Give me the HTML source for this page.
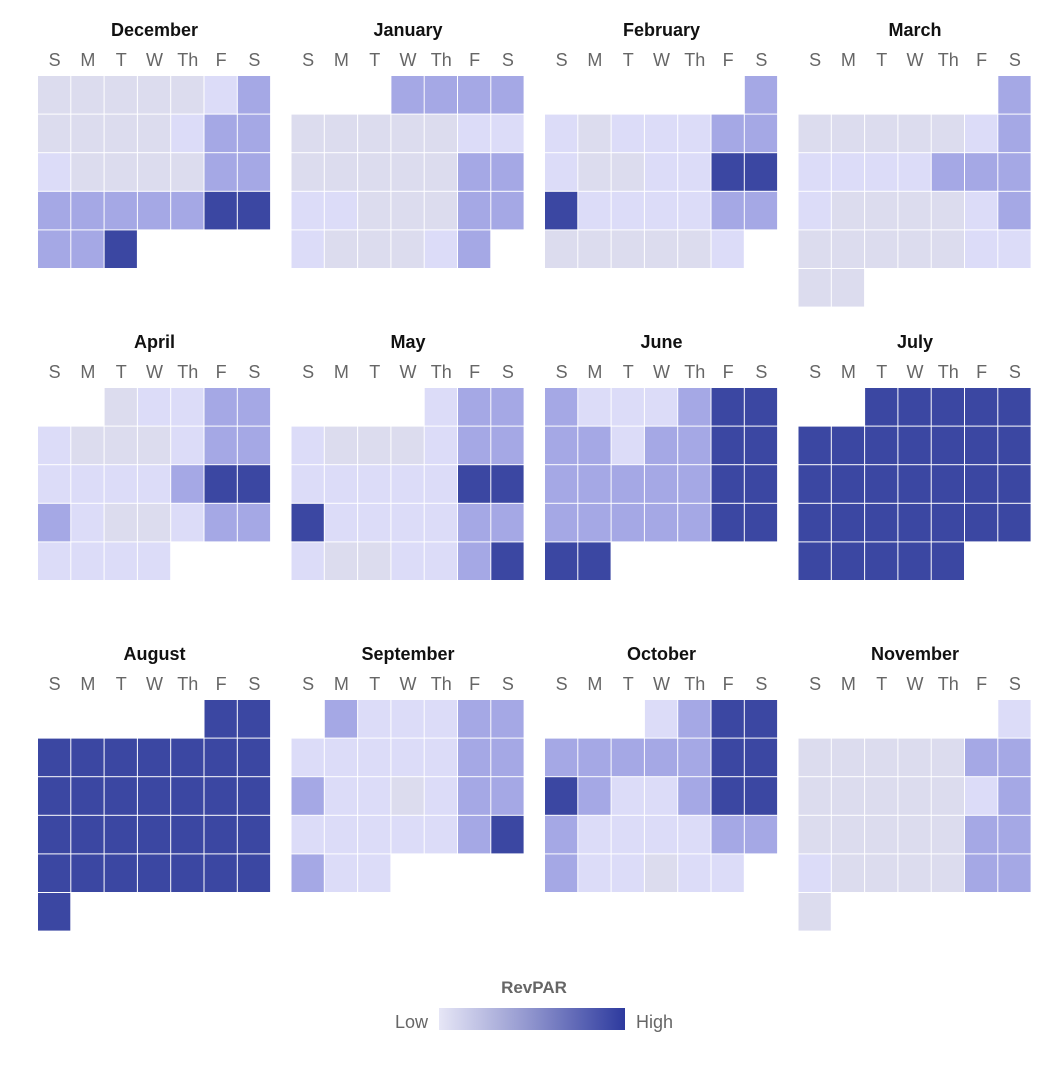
<!DOCTYPE html>
<html><head><meta charset="utf-8"><style>
html,body{margin:0;padding:0;background:#fff;}
svg{display:block;font-family:"Liberation Sans",sans-serif;}
.t{font-size:18px;font-weight:bold;fill:#111;text-anchor:middle;}
.d{font-size:18px;fill:#666;text-anchor:middle;}
</style></head><body>
<svg id="s" width="1060" height="1066" viewBox="0 0 1060 1066">
<defs><linearGradient id="g" x1="0" x2="1" y1="0" y2="0"><stop offset="0" stop-color="#e6e6f6"/><stop offset="0.5" stop-color="#8e93cd"/><stop offset="1" stop-color="#2d3a9e"/></linearGradient></defs>
<g id="cells"></g>
<text class="t" x="154.5" y="36">December</text>
<text class="t" x="408" y="36">January</text>
<text class="t" x="661.5" y="36">February</text>
<text class="t" x="915" y="36">March</text>
<text class="t" x="154.5" y="348">April</text>
<text class="t" x="408" y="348">May</text>
<text class="t" x="661.5" y="348">June</text>
<text class="t" x="915" y="348">July</text>
<text class="t" x="154.5" y="660">August</text>
<text class="t" x="408" y="660">September</text>
<text class="t" x="661.5" y="660">October</text>
<text class="t" x="915" y="660">November</text>
<g id="days"></g>
<text x="534" y="993" style="font-size:17px;font-weight:bold;fill:#666;text-anchor:middle">RevPAR</text>
<rect x="439" y="1008" width="186" height="22" fill="url(#g)"/>
<text x="428" y="1028" style="font-size:18px;fill:#666;text-anchor:end">Low</text>
<text x="636" y="1028" style="font-size:18px;fill:#666">High</text>
</svg>
<script>
var C={a:"#dcdcee",b:"#dcdcf8",c:"#a5a8e5",d:"#3b47a2"};
var M=[
["aaaaabc","aaaabcc","baaaacc","cccccdd","ccd...."],
["...cccc","aaaaabb","aaaaacc","bbaaacc","baaabc."],
["......c","babbbcc","baabbdd","dbbbbcc","aaaaab."],
["......c","aaaaabc","bbbbccc","baaaabc","aaaaabb","aa....."],
["..abbcc","baaabcc","bbbbcdd","cbaabcc","bbbb..."],
["....bcc","baaabcc","bbbbbdd","dbbbbcc","baabbcd"],
["cbbbcdd","ccbccdd","cccccdd","cccccdd","dd....."],
["..ddddd","ddddddd","ddddddd","ddddddd","ddddd.."],
[".....dd","ddddddd","ddddddd","ddddddd","ddddddd","d......"],
[".cbbbcc","bbbbbcc","cbbabcc","bbbbbcd","cbb...."],
["...bcdd","cccccdd","dcbbcdd","cbbbbcc","cbbabb."],
["......b","aaaaacc","aaaaabc","aaaaacc","baaaacc","a......"]];
var g=document.getElementById("cells"),dg=document.getElementById("days"),h="",dh="";
var lab=["S","M","T","W","Th","F","S"];
for(var m=0;m<12;m++){var x0=38+(m%4)*253.5,y0=76+Math.floor(m/4)*312;
for(var k=0;k<7;k++)dh+='<text class="d" x="'+(x0+k*33.3+16.6)+'" y="'+(y0-10)+'">'+lab[k]+'</text>';
M[m].forEach(function(r,i){for(var j=0;j<7;j++){var ch=r[j];if(ch!=".")h+='<rect x="'+(x0+j*33.3)+'" y="'+(y0+i*38.6)+'" width="32.3" height="37.6" fill="'+C[ch]+'"/>';}});}
g.innerHTML=h;dg.innerHTML=dh;
</script>
</body></html>
